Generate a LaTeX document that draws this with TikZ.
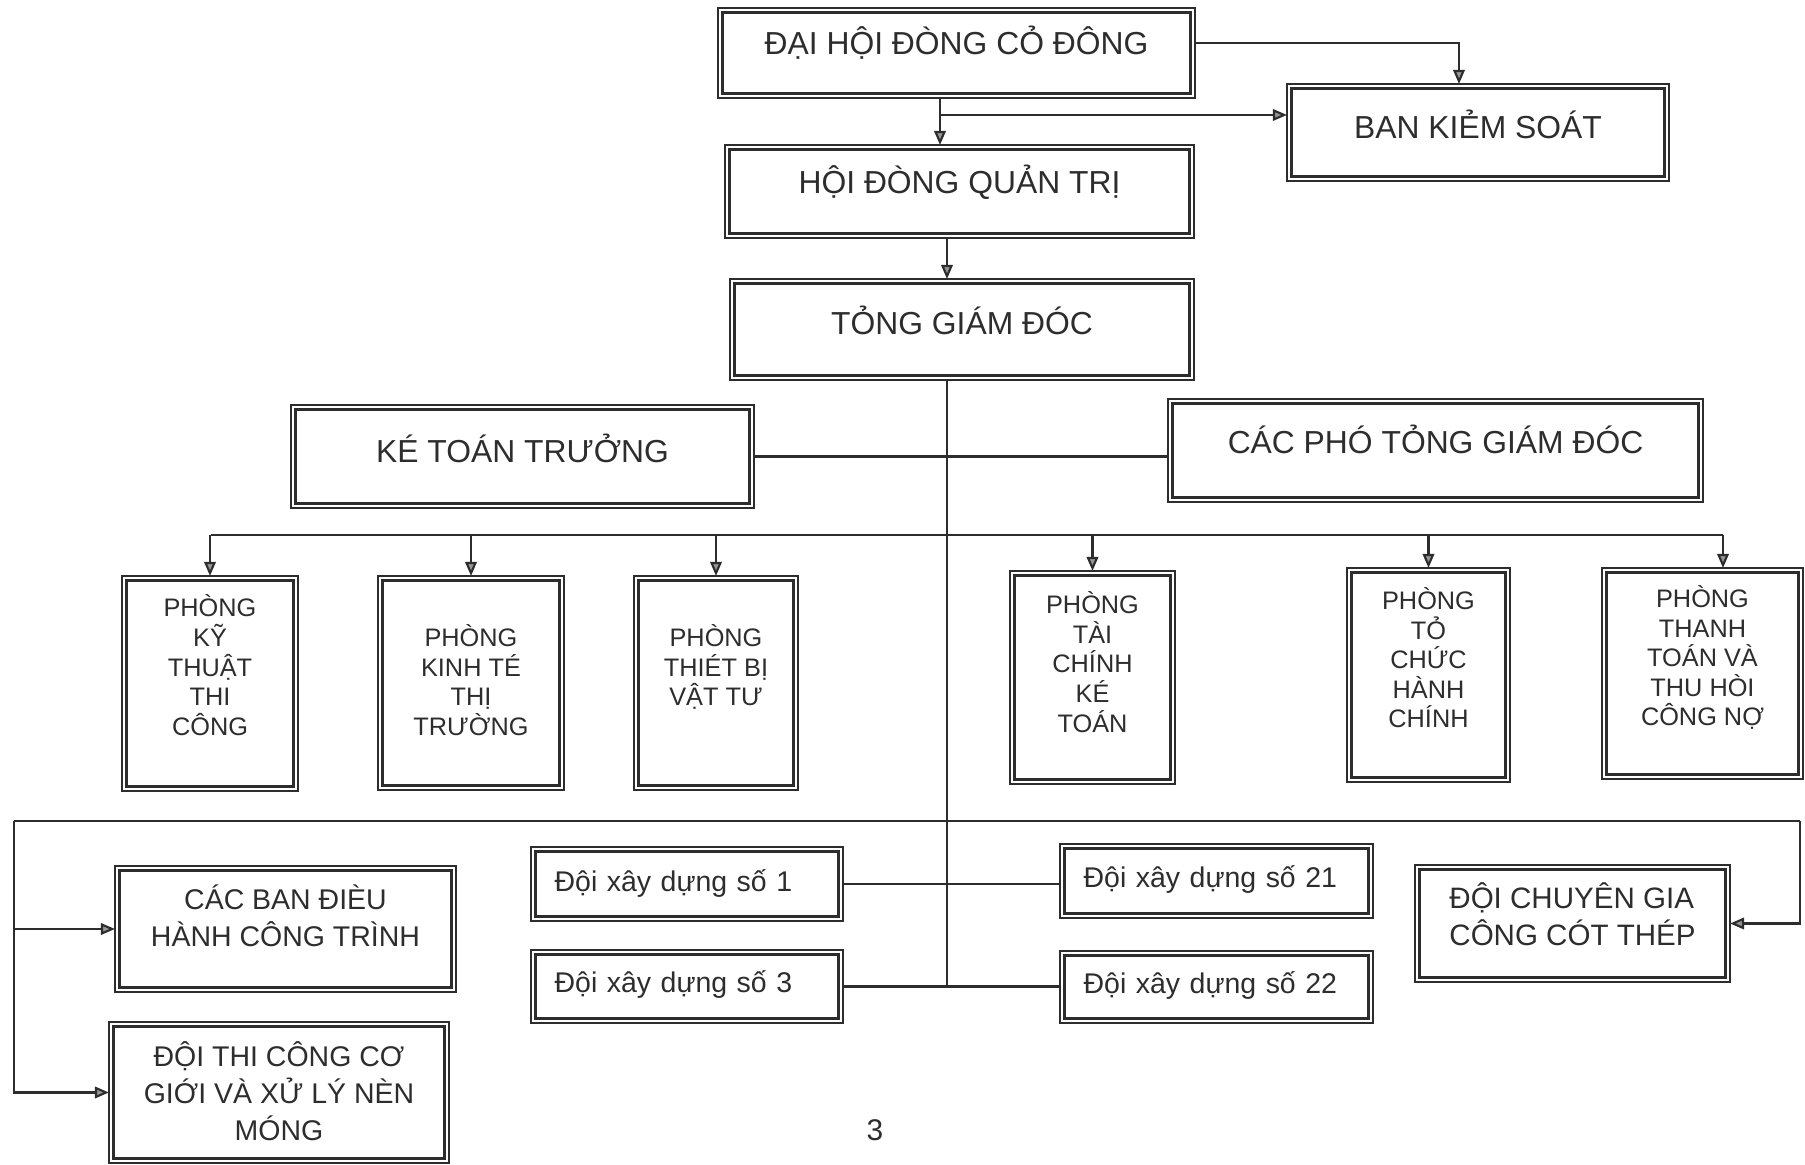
\documentclass[tikz,border=0pt]{standalone}
\usepackage{fontspec}
\setmainfont{Liberation Sans}
\usetikzlibrary{arrows.meta}
\definecolor{InkGray}{RGB}{45,45,45}
\definecolor{TipGray}{RGB}{150,150,150}

\begin{document}
\begin{tikzpicture}[x=0.01cm, y=-0.01cm,
    box/.style={draw=InkGray, line width=0.85pt, outer sep=1.35pt, inner sep=0pt, align=center, text=InkGray},
    head/.style={box, font=\fontsize{9.05}{11}\selectfont, text height=6.5pt},
    dept/.style={box, font=\fontsize{7.2}{8.4}\selectfont},
    team/.style={box, font=\fontsize{8.1}{10.5}\selectfont},
    conn/.style={draw=InkGray, line width=0.6pt},
    arr/.style={conn, -{Triangle[length=1.4mm, width=1.15mm, fill=TipGray]}}]
    \useasboundingbox (0,0) rectangle (1805,1165);

    % Board and management
    \node[head, minimum width=4.675cm, minimum height=0.805cm, text depth=5.7pt] (dhd) at (956.5,53) {ĐẠI HỘI ĐÒNG CỎ ĐÔNG};
    \node[head, minimum width=3.725cm, minimum height=0.875cm, text depth=3.1pt] (bks) at (1478,132.5) {BAN KIẺM SOÁT};
    \node[head, minimum width=4.595cm, minimum height=0.835cm, text depth=5.4pt] (hdqt) at (959.5,191.5) {HỘI ĐÒNG QUẢN TRỊ};
    \node[head, minimum width=4.545cm, minimum height=0.915cm, text depth=3.7pt] (tgd) at (962,329.5) {TỎNG GIÁM ĐÓC};
    \node[head, minimum width=4.535cm, minimum height=0.935cm, text depth=3.1pt] (ktt) at (522.5,456.5) {KÉ TOÁN TRƯỞNG};
    \node[head, minimum width=5.255cm, minimum height=0.935cm, text depth=4.8pt] (pho) at (1435.5,450.5) {CÁC PHÓ TỎNG GIÁM ĐÓC};

    % Departments
    \node[dept, minimum width=1.665cm, minimum height=2.055cm, text depth=10.5pt] (ktc) at (210,683.5) {PHÒNG\\KỸ\\THUẬT\\THI\\CÔNG};
    \node[dept, minimum width=1.765cm, minimum height=2.045cm, text depth=1.7pt] (kt) at (471,683) {PHÒNG\\KINH TÉ\\THỊ\\TRƯỜNG};
    \node[dept, minimum width=1.545cm, minimum height=2.045cm, text depth=10.2pt] (tb) at (716,683) {PHÒNG\\THIÉT BỊ\\VẬT TƯ};
    \node[dept, minimum width=1.555cm, minimum height=2.035cm, text depth=8.8pt] (tc) at (1092.5,677.5) {PHÒNG\\TÀI\\CHÍNH\\KÉ\\TOÁN};
    \node[dept, minimum width=1.535cm, minimum height=2.045cm, text depth=9.7pt] (tchc) at (1428.5,675) {PHÒNG\\TỎ\\CHỨC\\HÀNH\\CHÍNH};
    \node[dept, minimum width=1.915cm, minimum height=2.015cm, text depth=10pt] (tt) at (1702.5,673.5) {PHÒNG\\THANH\\TOÁN VÀ\\THU HÒI\\CÔNG NỢ};

    % Site units and teams
    \node[team, minimum width=3.315cm, minimum height=1.165cm, text depth=7.7pt] (cb) at (285.5,929) {CÁC BAN ĐIÈU\\HÀNH CÔNG TRÌNH};
    \node[team, minimum width=3.305cm, minimum height=1.315cm, text depth=0.6pt] (dtc) at (279,1092.5) {ĐỘI THI CÔNG CƠ\\GIỚI VÀ XỬ LÝ NÈN\\MÓNG};
    \node[team, align=left, inner xsep=0.19cm, text width=2.645cm, minimum height=0.645cm, text height=5.9pt, text depth=1.9pt] (d1) at (687,884) {Đội xây dựng số 1};
    \node[team, align=left, inner xsep=0.19cm, text width=2.645cm, minimum height=0.635cm, text height=5.9pt, text depth=2.6pt] (d3) at (687,986.5) {Đội xây dựng số 3};
    \node[team, align=left, inner xsep=0.19cm, text width=2.655cm, minimum height=0.645cm, text height=5.9pt, text depth=2.3pt] (d21) at (1216.5,881) {Đội xây dựng số 21};
    \node[team, align=left, inner xsep=0.19cm, text width=2.655cm, minimum height=0.625cm, text height=5.9pt, text depth=2.3pt] (d22) at (1216.5,987) {Đội xây dựng số 22};
    \node[team, align=left, minimum width=3.055cm, minimum height=1.075cm, font=\fontsize{8.4}{10.5}\selectfont, text depth=5.4pt] (cg) at (1572.5,923.5) {ĐỘI CHUYÊN GIA\\CÔNG CÓT THÉP};
    \node[font=\fontsize{8.5}{10}\selectfont, text=InkGray] (pg) at (875,1130) {3};

    % Thin outer frames
    \foreach \n in {dhd,bks,hdqt,tgd,ktt,pho,ktc,kt,tb,tc,tchc,tt,cb,dtc,d1,d3,d21,d22,cg}
        \draw[draw=InkGray, line width=0.45pt] (\n.north west) rectangle (\n.south east);

    % Upper links
    \coordinate (split) at (940,115);
    \coordinate (trunk) at (947,987);
    \draw[arr] ([yshift=0.1cm]dhd.east) -| ([xshift=-0.19cm]bks.north);
    \draw[arr] (dhd.south -| split) -- (hdqt.north -| split);
    \draw[arr] (split) -- (split -| bks.west);
    \draw[arr] (hdqt.south -| trunk) -- (tgd.north -| trunk);
    \draw[conn] (tgd.south -| trunk) -- (trunk);
    \draw[conn] (ktt.east) -- (ktt.east -| pho.west);

    % Department bus
    \coordinate (busL) at (211,535);
    \coordinate (busR) at (1723,535);
    \draw[conn] (busL) -- (busR);
    \foreach \d in {ktc,kt,tb,tc,tchc}
        \draw[arr] (\d.north |- busL) -- (\d.north);
    \draw[arr] (busR) -- (busR |- tt.north);

    % Lower bus
    \coordinate (lowL) at (14,821);
    \coordinate (lowR) at (1800,821);
    \draw[conn] (lowL) -- (lowR);
    \draw[arr] (lowL) |- (cb.west);
    \draw[arr] (lowL) |- (dtc.west);
    \draw[arr] (lowR) |- (cg.east);

    % Teams
    \draw[conn] (d1.east) -- (d1.east -| d21.west);
    \draw[conn] (d3.east) -- (d3.east -| d22.west);
\end{tikzpicture}
\end{document}
